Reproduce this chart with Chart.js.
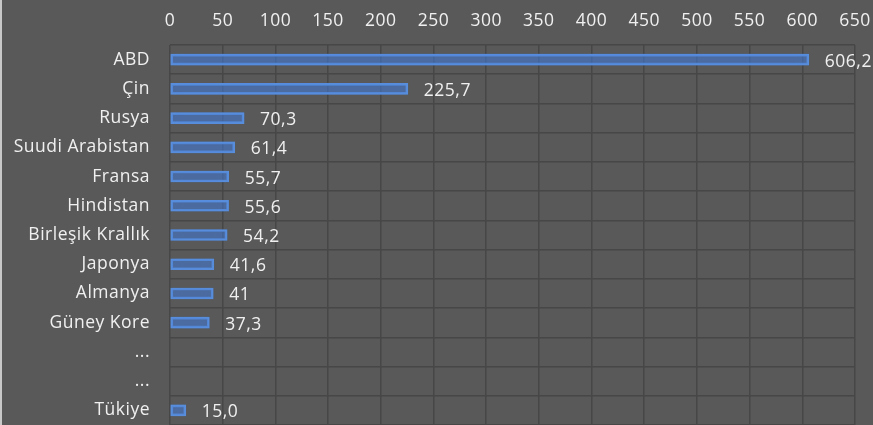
<!DOCTYPE html>
<html>
<head>
<meta charset="utf-8">
<script src="https://cdn.jsdelivr.net/npm/chart.js@4/dist/chart.umd.min.js"></script>
<style>
html,body{margin:0;padding:0;background:#595959;overflow:hidden;}
#wrap{width:873px;height:425px;position:relative;}
</style>
</head>
<body>
<div id="wrap"><canvas id="c" width="873" height="425"></canvas></div>
<script>
const categories = ["ABD","Çin","Rusya","Suudi Arabistan","Fransa","Hindistan","Birleşik Krallık","Japonya","Almanya","Güney Kore","...","...","Tükiye"];
const values = [606.2,225.7,70.3,61.4,55.7,55.6,54.2,41.6,41,37.3,null,null,15.0];
const valueLabels = ["606,2","225,7","70,3","61,4","55,7","55,6","54,2","41,6","41","37,3","","","15,0"];
const axisMin = 0, axisMax = 650, axisStep = 50;

const FONT = "'Open Sans', sans-serif";
const FSIZE = 17.5;
const TEXT = '#f0f0f0';
const SPACING = '0.5px';

const bgPlugin = {
  id:'bg',
  beforeUpdate(chart){ chart.ctx.letterSpacing = SPACING; },
  beforeLayout(chart){ chart.ctx.letterSpacing = SPACING; },
  beforeDraw(chart){
    const ctx = chart.ctx;
    ctx.save();
    ctx.fillStyle = '#595959';
    ctx.fillRect(0,0,chart.width,chart.height);
    ctx.strokeStyle = '#c8c8c8';
    ctx.lineWidth = 2;
    ctx.beginPath();
    ctx.moveTo(1,0); ctx.lineTo(1,chart.height);
    ctx.stroke();
    ctx.restore();
    ctx.letterSpacing = SPACING;
  }
};
const glowPlugin = {
  id:'glow',
  beforeDatasetDraw(chart){
    const ctx = chart.ctx;
    ctx.save();
    ctx.shadowColor = 'rgba(70,130,220,0.95)';
    ctx.shadowBlur = 10;
  },
  afterDatasetDraw(chart){
    chart.ctx.restore();
  }
};
const labelPlugin = {
  id:'vlabels',
  afterDatasetsDraw(chart){
    const ctx = chart.ctx;
    const meta = chart.getDatasetMeta(0);
    ctx.save();
    ctx.letterSpacing = SPACING;
    ctx.font = FSIZE + "px " + FONT;
    ctx.fillStyle = TEXT;
    ctx.textAlign = 'left';
    ctx.textBaseline = 'middle';
    meta.data.forEach((bar,i)=>{
      if (values[i] === null) return;
      ctx.fillText(valueLabels[i], bar.x + 16, bar.y + 2);
    });
    ctx.restore();
  }
};

new Chart(document.getElementById('c'), {
  type:'bar',
  data:{
    labels:categories,
    datasets:[{
      data:values,
      backgroundColor:'rgba(68,114,196,0.34)',
      borderColor:'#5a8fdc',
      borderWidth:2,
      borderSkipped:false,
      barThickness:11
    }]
  },
  options:{
    indexAxis:'y',
    responsive:false,
    animation:false,
    devicePixelRatio:1,
    layout:{padding:{left:0,right:18,top:0,bottom:0}},
    plugins:{legend:{display:false},tooltip:{enabled:false}},
    scales:{
      x:{
        position:'top',
        min:axisMin,max:axisMax,
        ticks:{stepSize:axisStep,color:TEXT,font:{family:FONT,size:FSIZE},padding:13,maxRotation:0,autoSkip:false},
        grid:{color:'#474747',lineWidth:1.5,drawTicks:false},
        border:{display:false},
        afterFit(s){s.height=45; s.paddingLeft=0; s.paddingRight=0; s.paddingTop=0; s.paddingBottom=0;}
      },
      y:{
        ticks:{color:TEXT,font:{family:FONT,size:FSIZE},padding:20,autoSkip:false},
        grid:{color:'#474747',lineWidth:1.5,drawTicks:false,offset:true},
        border:{display:false},
        afterFit(s){s.width=170; s.paddingLeft=0; s.paddingRight=0; s.paddingTop=0; s.paddingBottom=0;}
      }
    }
  },
  plugins:[bgPlugin,glowPlugin,labelPlugin]
});
</script>
</body>
</html>
